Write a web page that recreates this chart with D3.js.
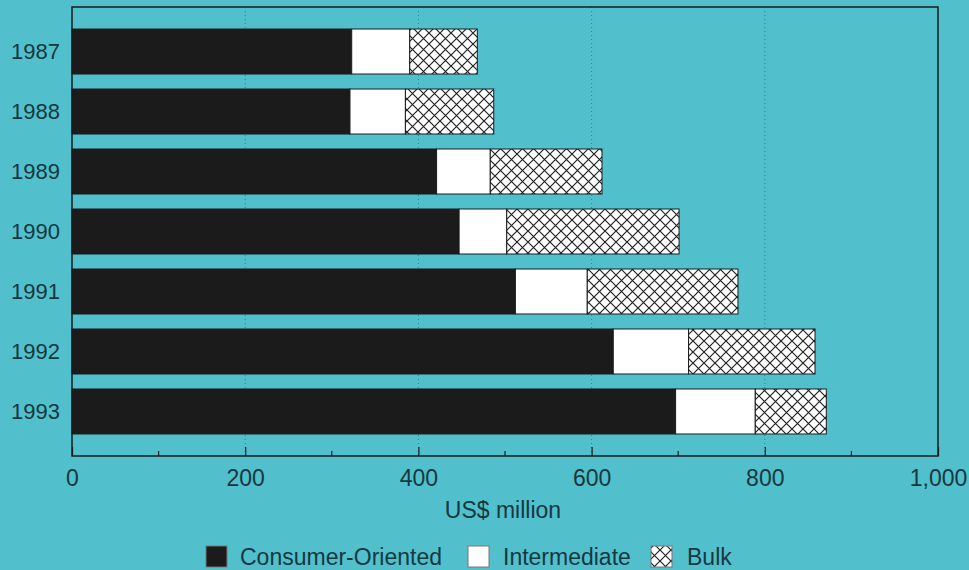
<!DOCTYPE html>
<html>
<head>
<meta charset="utf-8">
<script src="https://cdn.jsdelivr.net/npm/d3@7"></script>
<style>
  body { margin: 0; background: #52bfcd; }
  svg { display: block; font-family: "Liberation Sans", Arial, sans-serif; }
</style>
</head>
<body>
<div id="chart"></div>
<script>
(function () {

    const years = ['1987', '1988', '1989', '1990', '1991', '1992', '1993'];
    const consumer = [323, 321, 421, 447, 512, 625, 697];
    const intermediate = [67, 64, 62, 55, 83, 87, 92];
    const bulk = [78, 102, 129, 199, 174, 146, 82];
    const seriesNames = ['Consumer-Oriented', 'Intermediate', 'Bulk'];
    const xTicks = [0, 200, 400, 600, 800, 1000];
    const xMinor = [100, 300, 500, 700, 900];

    const W = 969, H = 570;
    const m = { left: 72, right: 31, top: 7, bottom: 114 };
    const ink = '#1b1b1b';
    const textCol = '#163840';

    const svg = d3.select('#chart')
        .append('svg')
        .attr('width', W)
        .attr('height', H);

    svg.append('rect').attr('width', W).attr('height', H).attr('fill', '#52bfcd');

    // hatch for bulk
    const defs = svg.append('defs');
    const pat = defs.append('pattern')
        .attr('id', 'hatch')
        .attr('patternUnits', 'userSpaceOnUse')
        .attr('width', 11)
        .attr('height', 11);
    pat.append('rect').attr('width', 11).attr('height', 11).attr('fill', '#fff');
    pat.append('path')
        .attr('d', 'M-1,-1L12,12M-1,12L12,-1')
        .attr('stroke', '#222')
        .attr('stroke-width', 1.2);

    const x = d3.scaleLinear()
        .domain([0, 1000])
        .range([m.left, W - m.right]);

    const plotBottom = H - m.bottom;

    const y = d3.scaleBand()
        .domain(years)
        .range([m.top, plotBottom])
        .paddingInner(0.25)
        .paddingOuter(0.367);

    // dotted grid lines
    svg.append('g')
        .selectAll('line')
        .data(xTicks.slice(1, -1))
        .enter()
        .append('line')
        .attr('x1', d => x(d))
        .attr('x2', d => x(d))
        .attr('y1', m.top)
        .attr('y2', plotBottom)
        .attr('stroke', '#2f7f8a')
        .attr('stroke-width', 1)
        .attr('stroke-dasharray', '1,3');

    // stacked bars
    const rows = years.map((yr, i) => ({ year: yr, c: consumer[i], m: intermediate[i], b: bulk[i] }));
    const stack = d3.stack().keys(['c', 'm', 'b'])(rows);
    const fills = [ink, '#ffffff', 'url(#hatch)'];

    svg.append('g')
        .selectAll('g')
        .data(stack)
        .enter()
        .append('g')
        .attr('fill', (d, i) => fills[i])
        .selectAll('rect')
        .data(d => d)
        .enter()
        .append('rect')
        .attr('x', d => x(d[0]))
        .attr('width', d => x(d[1]) - x(d[0]))
        .attr('y', d => y(d.data.year))
        .attr('height', y.bandwidth())
        .attr('stroke', ink)
        .attr('stroke-width', 1);

    // frame
    svg.append('rect')
        .attr('x', m.left)
        .attr('y', m.top)
        .attr('width', W - m.left - m.right)
        .attr('height', plotBottom - m.top)
        .attr('fill', 'none')
        .attr('stroke', ink)
        .attr('stroke-width', 1.5);

    // bottom axis, ticks pointing inward
    const ax = svg.append('g')
        .attr('transform', `translate(0, ${plotBottom})`)
        .call(d3.axisBottom(x).tickValues(xTicks).tickSizeInner(-9).tickSizeOuter(0)
            .tickFormat(d3.format(',')));
    ax.select('.domain').remove();
    ax.selectAll('.tick line').attr('stroke', ink).attr('stroke-width', 1.2);
    ax.selectAll('.tick text')
        .attr('y', 14)
        .attr('fill', textCol)
        .style('font-size', '23px');

    svg.append('g')
        .selectAll('line')
        .data(xMinor)
        .enter()
        .append('line')
        .attr('x1', d => x(d))
        .attr('x2', d => x(d))
        .attr('y1', plotBottom)
        .attr('y2', plotBottom - 5)
        .attr('stroke', ink)
        .attr('stroke-width', 1.2);

    // year labels
    const ay = svg.append('g')
        .attr('transform', `translate(${m.left}, 0)`)
        .call(d3.axisLeft(y).tickSize(0).tickPadding(12));
    ay.select('.domain').remove();
    ay.selectAll('.tick text')
        .attr('fill', textCol)
        .style('font-size', '22px');

    // axis title
    svg.append('text')
        .attr('x', 503)
        .attr('y', 518)
        .attr('text-anchor', 'middle')
        .attr('fill', textCol)
        .style('font-size', '23px')
        .text('US$ million');

    // legend
    const legend = [
        { name: seriesNames[0], fill: ink, bx: 206, tx: 240 },
        { name: seriesNames[1], fill: '#ffffff', bx: 468, tx: 503 },
        { name: seriesNames[2], fill: 'url(#hatch)', bx: 651, tx: 687 }
    ];
    const lg = svg.append('g')
        .selectAll('g')
        .data(legend)
        .enter()
        .append('g');
    lg.append('rect')
        .attr('x', d => d.bx)
        .attr('y', 546)
        .attr('width', 21)
        .attr('height', 21)
        .attr('fill', d => d.fill)
        .attr('stroke', '#777')
        .attr('stroke-width', 1);
    lg.append('text')
        .attr('x', d => d.tx)
        .attr('y', 565)
        .attr('fill', textCol)
        .style('font-size', '23px')
        .text(d => d.name);

})();
</script>
</body>
</html>
